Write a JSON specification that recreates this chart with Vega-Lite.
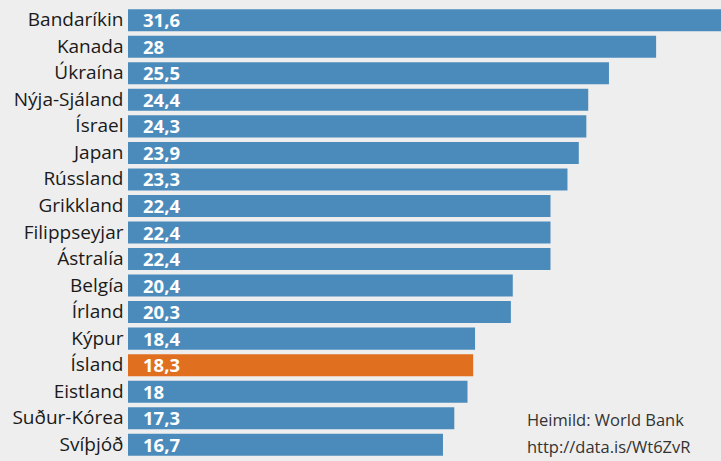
{
  "$schema": "https://vega.github.io/schema/vega-lite/v6.json",
  "autosize": "none",
  "width": 593,
  "height": 451,
  "padding": {"left": 128, "top": 7, "right": 0, "bottom": 3},
  "background": "#eeeeee",
  "config": {"view": {"stroke": null}},
  "data": {
    "values": [
      {"land": "Bandaríkin", "gildi": 31.6, "merki": "31,6", "hl": "n"},
      {"land": "Kanada", "gildi": 28, "merki": "28", "hl": "n"},
      {"land": "Úkraína", "gildi": 25.5, "merki": "25,5", "hl": "n"},
      {"land": "Nýja-Sjáland", "gildi": 24.4, "merki": "24,4", "hl": "n"},
      {"land": "Ísrael", "gildi": 24.3, "merki": "24,3", "hl": "n"},
      {"land": "Japan", "gildi": 23.9, "merki": "23,9", "hl": "n"},
      {"land": "Rússland", "gildi": 23.3, "merki": "23,3", "hl": "n"},
      {"land": "Grikkland", "gildi": 22.4, "merki": "22,4", "hl": "n"},
      {"land": "Filippseyjar", "gildi": 22.4, "merki": "22,4", "hl": "n"},
      {"land": "Ástralía", "gildi": 22.4, "merki": "22,4", "hl": "n"},
      {"land": "Belgía", "gildi": 20.4, "merki": "20,4", "hl": "n"},
      {"land": "Írland", "gildi": 20.3, "merki": "20,3", "hl": "n"},
      {"land": "Kýpur", "gildi": 18.4, "merki": "18,4", "hl": "n"},
      {"land": "Ísland", "gildi": 18.3, "merki": "18,3", "hl": "y"},
      {"land": "Eistland", "gildi": 18, "merki": "18", "hl": "n"},
      {"land": "Suður-Kórea", "gildi": 17.3, "merki": "17,3", "hl": "n"},
      {"land": "Svíþjóð", "gildi": 16.7, "merki": "16,7", "hl": "n"}
    ]
  },
  "encoding": {
    "y": {
      "field": "land",
      "type": "nominal",
      "sort": null,
      "scale": {"paddingInner": 0.17, "paddingOuter": 0.085},
      "axis": {
        "title": null,
        "domain": false,
        "ticks": false,
        "labelPadding": 5,
        "labelFont": "Open Sans",
        "labelFontSize": 19,
        "labelColor": "#1a1a1a"
      }
    }
  },
  "layer": [
    {
      "mark": {"type": "bar", "clip": true},
      "encoding": {
        "x": {
          "field": "gildi",
          "type": "quantitative",
          "scale": {"domain": [0, 31.44], "nice": false, "zero": true},
          "axis": null
        },
        "color": {
          "field": "hl",
          "type": "nominal",
          "scale": {"domain": ["n", "y"], "range": ["#4b8bbb", "#e07020"]},
          "legend": null
        }
      }
    },
    {
      "mark": {"type": "text", "align": "left", "baseline": "middle", "dx": 15, "dy": 1, "font": "Open Sans", "fontWeight": "bold", "fontSize": 18.5, "color": "white"},
      "encoding": {
        "x": {"datum": 0, "type": "quantitative"},
        "text": {"field": "merki"}
      }
    },
    {
      "data": {"values": [
        {"land": "Suður-Kórea", "texti": "Heimild: World Bank"},
        {"land": "Svíþjóð", "texti": "http://data.is/Wt6ZvR"}
      ]},
      "mark": {"type": "text", "align": "left", "baseline": "middle", "dy": 3, "font": "Open Sans", "fontSize": 16.5, "color": "#333333"},
      "encoding": {
        "x": {"datum": 21.15, "type": "quantitative"},
        "text": {"field": "texti"}
      }
    }
  ]
}
